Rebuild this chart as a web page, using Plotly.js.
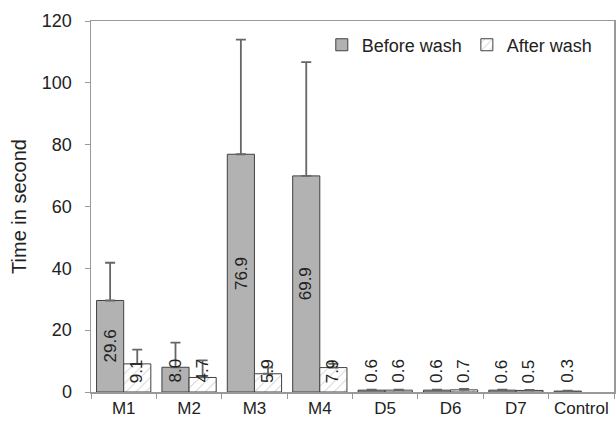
<!DOCTYPE html>
<html>
<head>
<meta charset="utf-8">
<script src="https://cdn.plot.ly/plotly-3.0.1.min.js"></script>
<style>html,body{margin:0;padding:0;background:#fff;}#chart{width:616px;height:425px;}</style>
</head>
<body>
<div id="chart"></div>
<script>
const categories = ['M1','M2','M3','M4','D5','D6','D7','Control'];
const beforeWash = [29.6, 8.0, 76.9, 69.9, 0.6, 0.6, 0.6, 0.3];
const beforeErr  = [12.2, 8.0, 37.1, 36.8, 0.2, 0.2, 0.2, 0.1];
const afterWash  = [9.1, 4.7, 5.9, 7.9, 0.6, 0.7, 0.5, null];
const afterErr   = [4.6, 5.5, 2.0, 1.2, 0.2, 0.3, 0.2, null];
const beforeLabels = ['29.6','8.0','76.9','69.9','0.6','0.6','0.6','0.3'];
const afterLabels  = ['9.1','4.7','5.9','7.9','0.6','0.7','0.5',''];

const font = 'Liberation Sans, Arial, sans-serif';

const traces = [
  {
    type: 'bar', name: 'Before wash', x: categories, y: beforeWash,
    marker: {color: '#b2b2b2', line: {color: '#404040', width: 1}},
    error_y: {type: 'data', array: beforeErr, arrayminus: beforeErr.map(() => 0), symmetric: false,
              color: '#666666', thickness: 1.8, width: 5}
  },
  {
    type: 'bar', name: 'After wash', x: categories, y: afterWash,
    marker: {color: '#ffffff', line: {color: '#404040', width: 1},
             pattern: {shape: '/', fgcolor: '#bdbdbd', bgcolor: '#ffffff', size: 7, solidity: 0.12}},
    error_y: {type: 'data', array: afterErr, arrayminus: afterErr.map(() => 0), symmetric: false,
              color: '#666666', thickness: 1.8, width: 5}
  }
];

function labelY(v) { return Math.max(v / 2, 6.8); }
const annotations = [];
categories.forEach((c, i) => {
  if (beforeLabels[i]) annotations.push({x: c, y: labelY(beforeWash[i]), xref: 'x', yref: 'y', text: beforeLabels[i],
    textangle: -90, showarrow: false, xshift: -13.5, font: {family: font, size: 17, color: '#222'}});
  if (afterLabels[i]) annotations.push({x: c, y: labelY(afterWash[i]), xref: 'x', yref: 'y', text: afterLabels[i],
    textangle: -90, showarrow: false, xshift: 13.5, font: {family: font, size: 17, color: '#222'}});
});

const layout = {
  width: 616, height: 425,
  margin: {l: 91, r: 2, t: 21, b: 33},
  paper_bgcolor: '#fff', plot_bgcolor: '#fff',
  font: {family: font, size: 18, color: '#222'},
  barmode: 'group', bargap: 0.17, bargroupgap: 0,
  showlegend: true,
  legend: {orientation: 'h', x: 0.969, y: 0.985, xanchor: 'right', yanchor: 'top',
           font: {family: font, size: 18, color: '#222'}, bgcolor: 'rgba(0,0,0,0)', itemwidth: 30, traceorder: 'normal'},
  xaxis: {type: 'category', tickson: 'boundaries', ticks: 'outside', ticklen: 5, tickcolor: '#999',
          showline: true, linecolor: '#999', linewidth: 1.5, mirror: true, showgrid: false,
          tickfont: {family: font, size: 17, color: '#222'}},
  yaxis: {range: [0, 120], dtick: 20, ticks: 'outside', ticklen: 5, tickcolor: '#999',
          showline: true, linecolor: '#999', linewidth: 1.5, mirror: true, showgrid: false, zeroline: false,
          tickfont: {family: font, size: 18, color: '#222'}, ticklabelstandoff: 9,
          title: {text: 'Time in second', font: {family: font, size: 20, color: '#222'}, standoff: 10}},
  annotations: annotations
};

Plotly.newPlot('chart', traces, layout, {displayModeBar: false, staticPlot: true});
</script>
</body>
</html>
